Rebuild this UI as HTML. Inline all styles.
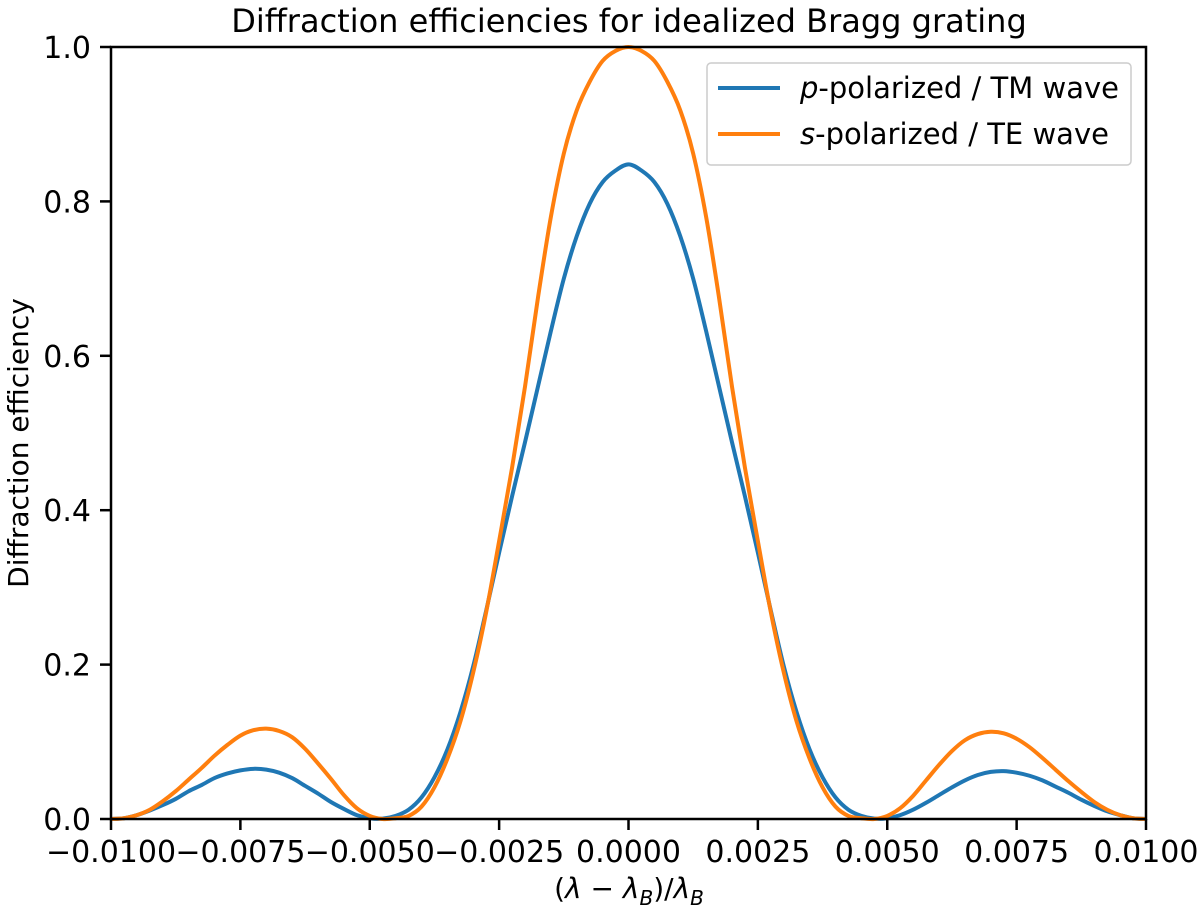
<!DOCTYPE html>
<html><head><meta charset="utf-8"><style>
body{margin:0;background:#fff}
svg{font-family:"DejaVu Sans","Liberation Sans",sans-serif}
</style></head><body>
<svg id="chart" width="1200" height="912">
<text x="629" y="32" font-size="32" text-anchor="middle">Diffraction efficiencies for idealized Bragg grating</text>
<g id="marks"></g>
<rect x="111" y="47" width="1035" height="772" fill="none" stroke="#000" stroke-width="2.5"/>
<g id="xticks"></g><g id="yticks"></g>
<text x="629" y="898" font-size="28" text-anchor="middle">(<tspan font-style="italic">λ</tspan> − <tspan font-style="italic">λ</tspan><tspan font-style="italic" font-size="20" dy="7">B</tspan><tspan dy="-7">)/</tspan><tspan font-style="italic">λ</tspan><tspan font-style="italic" font-size="20" dy="7">B</tspan></text>
<text transform="translate(28,443) rotate(-90)" font-size="28" text-anchor="middle">Diffraction efficiency</text>
<g>
<rect x="707" y="63" width="424" height="102" rx="4" fill="#fff" stroke="#ccc" stroke-width="1.5"/>
<line x1="718" y1="88" x2="780" y2="88" stroke="#1f77b4" stroke-width="4"/>
<text x="800" y="98" font-size="29"><tspan font-style="italic">p</tspan>-polarized / TM wave</text>
<line x1="718" y1="134" x2="780" y2="134" stroke="#ff7f0e" stroke-width="4"/>
<text x="800" y="144" font-size="29"><tspan font-style="italic">s</tspan>-polarized / TE wave</text>
</g>
</svg>
<script>
const xStart = -0.01;
const xStep = 0.00025;
const pWave = [0,.001,.005,.011,.018,.026,.036,.044,.053,.059,.063,.065,.064,.06,.053,.043,.033,.022,.013,.005,.001,
  .0005,.004,
  .012,.028,.054,.09,.138,.198,.27,.345,.418,.488,.56,.632,.70,.755,.797,.825,.840,
  .848,
  .840,.825,.797,.755,.70,.632,.56,.488,.418,.345,.27,.198,.138,.09,.054,.028,.012,
  .004,.0005,
  .001,.005,.012,.021,.031,.041,.05,.057,.061,.062,.06,.056,.05,.042,.034,.025,.017,.01,.005,.001,0];
const sWave = [0,.001,.005,.012,.023,.036,.051,.066,.082,.096,.108,.115,.117,.114,.106,.091,.072,.052,.031,.014,.004,0,
  .001,
  .004,.016,.041,.078,.126,.19,.268,.36,.455,.56,.675,.78,.862,.918,.955,.982,.995,
  1.0,
  .995,.982,.955,.918,.862,.78,.675,.56,.455,.36,.268,.19,.126,.078,.041,.016,.004,
  .001,0,
  .004,.014,.03,.05,.07,.088,.102,.11,.113,.111,.104,.093,.079,.064,.049,.035,.022,.012,.005,.001,0];
const xTicks = [-0.01,-0.0075,-0.005,-0.0025,0,0.0025,0.005,0.0075,0.01];
const xTickLabels = ["−0.0100","−0.0075","−0.0050","−0.0025","0.0000","0.0025","0.0050","0.0075","0.0100"];
const yTicks = [0,0.2,0.4,0.6,0.8,1.0];
const yTickLabels = ["0.0","0.2","0.4","0.6","0.8","1.0"];
const NS="http://www.w3.org/2000/svg";
const X=v=>111+(v+0.01)/0.02*1035, Y=v=>819-v*772;
function path(vals){
  const pts=vals.map((v,i)=>[X(xStart+i*xStep),Y(v)]);
  let d=`M${pts[0][0]},${pts[0][1]}`;
  for(let i=0;i<pts.length-1;i++){
    const p0=pts[Math.max(0,i-1)],p1=pts[i],p2=pts[i+1],p3=pts[Math.min(pts.length-1,i+2)];
    const c1=[p1[0]+(p2[0]-p0[0])/6,p1[1]+(p2[1]-p0[1])/6],c2=[p2[0]-(p3[0]-p1[0])/6,p2[1]-(p3[1]-p1[1])/6];
    d+=`C${c1[0]},${c1[1]} ${c2[0]},${c2[1]} ${p2[0]},${p2[1]}`;
  }
  return d;
}
const m=document.getElementById('marks');
[[pWave,'#1f77b4','line-p-polarized'],[sWave,'#ff7f0e','line-s-polarized']].forEach(([v,c,n])=>{
  const p=document.createElementNS(NS,'path');
  p.setAttribute('d',path(v));p.setAttribute('fill','none');p.setAttribute('stroke',c);p.setAttribute('stroke-width','4');
  p.setAttribute('stroke-linejoin','round');
  
  
  m.appendChild(p);
});
const xt=document.getElementById('xticks');
xTicks.forEach((t,i)=>{
  const g=document.createElementNS(NS,'g');
  
  
  g.innerHTML=`<line x1="${X(t)}" y1="819" x2="${X(t)}" y2="830" stroke="#000" stroke-width="2.5"/><text x="${X(t)}" y="862" font-size="30" text-anchor="middle">${xTickLabels[i]}</text>`;
  xt.appendChild(g);
});
const yt=document.getElementById('yticks');
yTicks.forEach((t,i)=>{
  const g=document.createElementNS(NS,'g');
  
  
  g.innerHTML=`<line x1="100" y1="${Y(t)}" x2="111" y2="${Y(t)}" stroke="#000" stroke-width="2.5"/><text x="91" y="${Y(t)+11}" font-size="30" text-anchor="end">${yTickLabels[i]}</text>`;
  yt.appendChild(g);
});
</script>
</body></html>
